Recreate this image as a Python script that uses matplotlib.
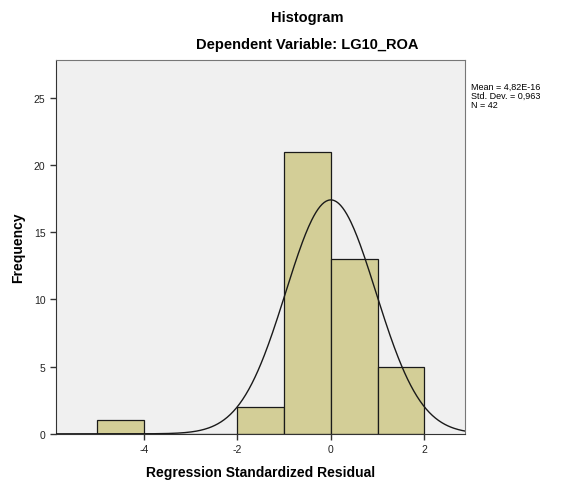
import numpy as np
import matplotlib.pyplot as plt

plt.rcParams['font.family'] = ['Liberation Sans', 'DejaVu Sans']
plt.rcParams['axes.unicode_minus'] = False

# Histogramm der standardisierten Residuen
bin_left = np.array([-5, -4, -3, -2, -1, 0, 1])
counts = np.array([1, 0, 0, 2, 21, 13, 5])
mean = 4.82e-16
sd = 0.963
n = 42

fig = plt.figure(figsize=(5.65, 4.81), dpi=100)
ax = fig.add_axes([0.099, 0.096, 0.724, 0.777])
ax.set_facecolor('#f0f0f0')

ax.bar(bin_left, counts, width=1, align='edge', color='#d3ce97', edgecolor='#1a1a1a', linewidth=0.9, zorder=2)

# Normalverteilungskurve
x = np.linspace(-5.9, 2.9, 400)
y = n * 1.0 / (sd * np.sqrt(2 * np.pi)) * np.exp(-0.5 * ((x - mean) / sd) ** 2)
ax.plot(x, y, color='#1a1a1a', linewidth=1.0, zorder=3)

ax.set_xlim(-5.88, 2.87)
ax.set_ylim(0, 27.8)
ax.set_xticks([-4, -2, 0, 2])
ax.set_yticks([0, 5, 10, 15, 20, 25])
ax.tick_params(axis='both', labelsize=7.5, length=4, width=1, color='#333333', labelcolor='#222222', direction='out')
ax.spines['left'].set_color('#333333')
ax.spines['bottom'].set_color('#333333')
ax.spines['top'].set_color('#777777')
ax.spines['right'].set_color('#777777')

ax.set_xlabel('Regression Standardized Residual', fontsize=10, fontweight='bold', labelpad=8)
ax.set_ylabel('Frequency', fontsize=10, fontweight='bold', labelpad=6)

fig.text(307 / 565, 1 - 18 / 481, 'Histogram', ha='center', va='center', fontsize=10.5, fontweight='bold')
fig.text(307 / 565, 1 - 45 / 481, 'Dependent Variable: LG10_ROA', ha='center', va='center', fontsize=10.5, fontweight='bold')

fig.text(471 / 565, 1 - 83 / 481, 'Mean = 4,82E-16\nStd. Dev. = 0,963\nN = 42', ha='left', va='top', fontsize=6.5, linespacing=1.0)

plt.savefig('out.png', dpi=100)
